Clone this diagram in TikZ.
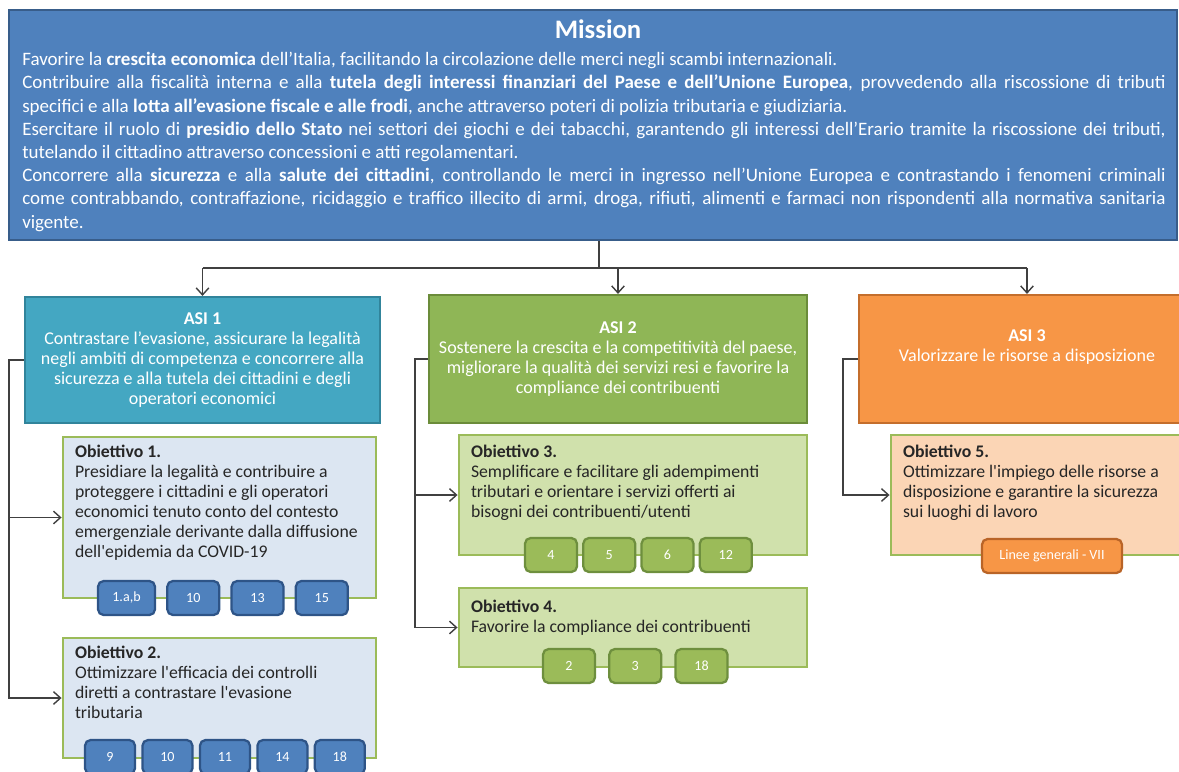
\documentclass[tikz,border=0pt]{standalone}
\usepackage{fontspec}
\setmainfont{Carlito}
\usetikzlibrary{positioning,arrows.meta}

\definecolor{missionblue}{HTML}{4F81BD}
\definecolor{missionline}{HTML}{385D8A}
\definecolor{asiteal}{HTML}{44A7C2}
\definecolor{asitealline}{HTML}{31849B}
\definecolor{asigreen}{HTML}{8FB656}
\definecolor{asigreenline}{HTML}{6B8C3A}
\definecolor{asiorange}{HTML}{F79646}
\definecolor{asiorangeline}{HTML}{C46E2C}
\definecolor{obblue}{HTML}{DCE6F2}
\definecolor{obgreen}{HTML}{D0E1AC}
\definecolor{obpeach}{HTML}{FBD5B5}
\definecolor{obline}{HTML}{9BBB59}
\definecolor{badgeblueline}{HTML}{2E5487}
\definecolor{badgegreenline}{HTML}{6E8F3E}
\definecolor{badgeorangeline}{HTML}{B96427}
\definecolor{linkgrey}{HTML}{404040}

\begin{document}
\begin{tikzpicture}[x=0.025cm, y=-0.025cm,
    asibox/.style={draw, line width=1.5pt, text=white, align=center, font=\fontsize{12.8}{14.2}\selectfont},
    obbox/.style={draw=obline, line width=2pt},
    obtext/.style={align=left, inner sep=0pt, text=black!85, font=\fontsize{12.6}{14.2}\selectfont},
    badge/.style={rounded corners=4pt, line width=1.6pt, minimum width=1.3cm, minimum height=0.85cm, text=white, font=\fontsize{10}{11}\selectfont},
    bluebadge/.style={badge, fill=missionblue, draw=badgeblueline},
    greenbadge/.style={badge, fill=obline, draw=badgegreenline},
    orangebadge/.style={badge, fill=asiorange, draw=badgeorangeline},
    link/.style={draw=linkgrey, line width=1pt, >={Straight Barb[length=5pt,width=9pt]}}]
        \useasboundingbox (0,0) rectangle (1179,771);
        \clip (0,0) rectangle (1179,771);

        % mission
        \node[draw=missionline, fill=missionblue, line width=1.5pt, minimum width=29.2cm, minimum height=5.75cm] (mission) at (593,125) {};
        \node[anchor=base, text=white, font=\bfseries\fontsize{19}{22}\selectfont] (missiontitle) at (598,38) {Mission};
        \node[anchor=north west, inner sep=0pt, text width=28.575cm, align=justify, text=white, font=\fontsize{13.5}{16.5}\selectfont] (missiontext) at (22,52) {\tolerance=10000
            Favorire la \textbf{crescita economica} dell’Italia, facilitando la circolazione delle merci negli scambi internazionali.\par
            Contribuire alla fiscalità interna e alla \textbf{tutela degli interessi finanziari del Paese e dell’Unione Europea}, provvedendo alla riscossione di tributi\linebreak
            specifici e alla \textbf{lotta all’evasione fiscale e alle frodi}, anche attraverso poteri di polizia tributaria e giudiziaria.\par
            Esercitare il ruolo di \textbf{presidio dello Stato} nei settori dei giochi e dei tabacchi, garantendo gli interessi dell’Erario tramite la riscossione dei tributi,\linebreak
            tutelando il cittadino attraverso concessioni e atti regolamentari.\par
            Concorrere alla \textbf{sicurezza} e alla \textbf{salute dei cittadini}, controllando le merci in ingresso nell’Unione Europea e contrastando i fenomeni criminali\linebreak
            come contrabbando, contraffazione, ricidaggio e traffico illecito di armi, droga, rifiuti, alimenti e farmaci non rispondenti alla normativa sanitaria\linebreak
            vigente.};

        % assi
        \node[asibox, draw=asitealline, fill=asiteal, minimum width=8.875cm, minimum height=3.15cm] (asi1) at (202.5,360) {\textbf{ASI 1}\\Contrastare l’evasione, assicurare la legalità\\negli ambiti di competenza  e concorrere alla\\sicurezza e alla tutela dei cittadini e degli\\operatori economici};
        \node[asibox, draw=asigreenline, fill=asigreen, minimum width=9.45cm, minimum height=3.2cm] (asi2) at (618,359) {\textbf{ASI 2}\\Sostenere  la crescita e la competitività del paese,\\migliorare la qualità dei servizi resi e favorire la\\compliance dei contribuenti};
        \node[asibox, draw=asiorangeline, fill=asiorange, minimum width=8.4cm, minimum height=3.2cm] (asi3) at (1027,359) {\textbf{ASI 3}\\Valorizzare le risorse a disposizione\\\strut};

        \coordinate (hub) at (599,268);
        \draw[link] (mission.south -| hub) -- (hub);
        \draw[link] (hub -| asi1.north) -- (hub -| asi3.north);
        \draw[link,->] (hub -| asi1.north) -- (asi1.north);
        \draw[link,->] (hub -| asi2.north) -- (asi2.north);
        \draw[link,->] (hub -| asi3.north) -- (asi3.north);

        % obiettivi
        \node[obbox, fill=obblue, minimum width=7.825cm, minimum height=4.025cm] (ob1) at (219.5,517.5) {};
        \node[obtext, below right=0.24cm and 0.33cm of ob1.north west] (ob1text) {\textbf{Obiettivo 1.}\\Presidiare la legalità e contribuire a\\proteggere  i cittadini e gli operatori\\economici tenuto conto del contesto\\emergenziale derivante dalla diffusione\\dell\textquotesingle epidemia da COVID-19};
        \node[obbox, fill=obblue, minimum width=7.825cm, minimum height=3cm] (ob2) at (219.5,698) {};
        \node[obtext, below right=0.24cm and 0.33cm of ob2.north west] (ob2text) {\textbf{Obiettivo 2.}\\Ottimizzare l\textquotesingle efficacia dei controlli\\diretti a contrastare l\textquotesingle evasione\\tributaria};
        \node[obbox, fill=obgreen, minimum width=8.7cm, minimum height=3cm] (ob3) at (633,495) {};
        \node[obtext, below right=0.27cm and 0.33cm of ob3.north west] (ob3text) {\textbf{Obiettivo 3.}\\Semplificare e facilitare gli adempimenti\\tributari e  orientare i servizi offerti ai\\bisogni dei contribuenti/utenti};
        \node[obbox, fill=obgreen, minimum width=8.7cm, minimum height=1.975cm] (ob4) at (633,627.5) {};
        \node[obtext, below right=0.32cm and 0.33cm of ob4.north west] (ob4text) {\textbf{Obiettivo 4.}\\Favorire la compliance dei contribuenti};
        \node[obbox, fill=obpeach, minimum width=7.725cm, minimum height=3cm] (ob5) at (1045.5,495) {};
        \node[obtext, below right=0.27cm and 0.33cm of ob5.north west] (ob5text) {\textbf{Obiettivo 5.}\\Ottimizzare  l\textquotesingle impiego delle risorse a\\disposizione e garantire la sicurezza\\sui luoghi di lavoro};

        \draw[link,->] (asi1.west) -- ++(-15,0) |- (ob1.west);
        \draw[link,->] (asi1.west) -- ++(-15,0) |- (ob2.west);
        \draw[link,->] (asi2.west) -- ++(-13,0) |- (ob3.west);
        \draw[link,->] (asi2.west) -- ++(-13,0) |- (ob4.west);
        \draw[link,->] (asi3.west) -- ++(-15,0) |- (ob5.west);

        % badges
        \node[bluebadge, minimum width=1.425cm] (b1a) at (126.5,598) {1.a,b};
        \node[bluebadge, right=0.25cm of b1a] (b1b) {10};
        \node[bluebadge, right=0.25cm of b1b] (b1c) {13};
        \node[bluebadge, right=0.25cm of b1c] (b1d) {15};

        \node[bluebadge, minimum width=1.25cm] (b2a) at (110,757) {9};
        \node[bluebadge, minimum width=1.25cm, right=0.13cm of b2a] (b2b) {10};
        \node[bluebadge, minimum width=1.25cm, right=0.13cm of b2b] (b2c) {11};
        \node[bluebadge, minimum width=1.25cm, right=0.13cm of b2c] (b2d) {14};
        \node[bluebadge, minimum width=1.25cm, right=0.13cm of b2d] (b2e) {18};

        \node[greenbadge] (b3a) at (551,555) {4};
        \node[greenbadge, right=0.1cm of b3a] (b3b) {5};
        \node[greenbadge, right=0.1cm of b3b] (b3c) {6};
        \node[greenbadge, right=0.1cm of b3c] (b3d) {12};

        \node[greenbadge] (b4a) at (569,666) {2};
        \node[greenbadge, right=0.3cm of b4a] (b4b) {3};
        \node[greenbadge, right=0.3cm of b4b] (b4c) {18};

        \node[orangebadge, minimum width=3.5cm] (b5a) at (1052,556) {Linee generali - VII};
\end{tikzpicture}
\end{document}
